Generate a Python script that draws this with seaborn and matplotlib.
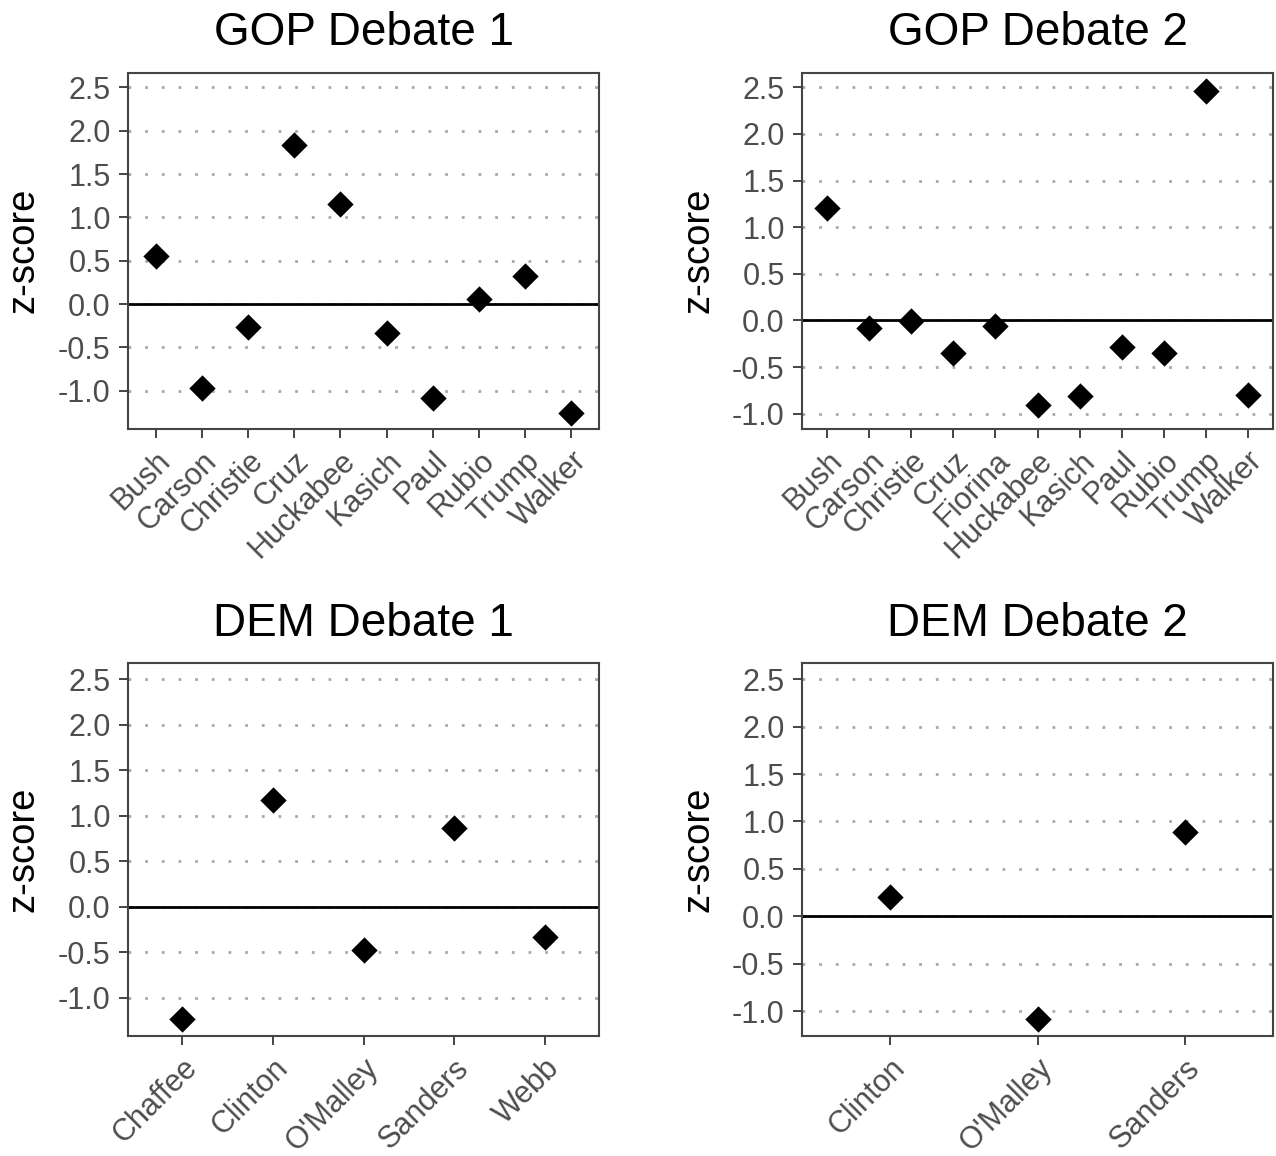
import matplotlib
matplotlib.use("Agg")
import matplotlib.pyplot as plt
import seaborn as sns
import pandas as pd

# ---- data ----
gop1_candidates = ["Bush", "Carson", "Christie", "Cruz", "Huckabee", "Kasich", "Paul", "Rubio", "Trump", "Walker"]
gop1_z = [0.55, -0.97, -0.26, 1.84, 1.15, -0.33, -1.08, 0.06, 0.32, -1.26]

gop2_candidates = ["Bush", "Carson", "Christie", "Cruz", "Fiorina", "Huckabee", "Kasich", "Paul", "Rubio", "Trump", "Walker"]
gop2_z = [1.21, -0.08, -0.01, -0.35, -0.06, -0.91, -0.81, -0.28, -0.35, 2.46, -0.80]

dem1_candidates = ["Chaffee", "Clinton", "O'Malley", "Sanders", "Webb"]
dem1_z = [-1.23, 1.17, -0.48, 0.87, -0.33]

dem2_candidates = ["Clinton", "O'Malley", "Sanders"]
dem2_z = [0.20, -1.08, 0.89]

titles = ["GOP Debate 1", "GOP Debate 2", "DEM Debate 1", "DEM Debate 2"]
y_ticks = [-1.0, -0.5, 0.0, 0.5, 1.0, 1.5, 2.0, 2.5]

# ---- style ----
sns.set_theme(style="white")
plt.rcParams['font.family'] = ['Liberation Sans', 'DejaVu Sans']
plt.rcParams['axes.unicode_minus'] = False

W, H = 1276, 1156
fig = plt.figure(figsize=(W / 100, H / 100), dpi=100)

# pixel boxes: (left, right, top, bottom)
boxes = [
    (128, 599, 72.7, 428.5),
    (802, 1273, 72.7, 428.7),
    (128, 599, 663.3, 1035.7),
    (802, 1273, 663.3, 1035.7),
]
ylims = [(-1.434, 2.668), (-1.161, 2.657), (-1.418, 2.676), (-1.26, 2.669)]

panels = [
    (gop1_candidates, gop1_z),
    (gop2_candidates, gop2_z),
    (dem1_candidates, dem1_z),
    (dem2_candidates, dem2_z),
]

frame_col = "#444444"
for i, ((cands, zs), (l, r, t, b)) in enumerate(zip(panels, boxes)):
    ax = fig.add_axes([l / W, 1 - b / H, (r - l) / W, (b - t) / H])
    df = pd.DataFrame({"candidate": cands, "z": zs})
    ax.set_axisbelow(True)
    ax.yaxis.grid(True, linestyle=(0, (1, 5)), color="#a8a8a8", linewidth=2.0)
    ax.xaxis.grid(False)
    ax.axhline(0, color="black", linewidth=2.0, zorder=2)
    sns.scatterplot(data=df, x="candidate", y="z", ax=ax, marker="D", s=180,
                    color="black", edgecolor="black", linewidth=0, zorder=3)
    ax.set_xlim(-0.6, len(cands) - 1 + 0.6)
    ax.set_ylim(*ylims[i])
    ax.set_yticks(y_ticks)
    ax.set_yticklabels([f"{v:.1f}" for v in y_ticks])
    ax.set_xticks(range(len(cands)))
    ax.set_xticklabels(cands, rotation=45, ha="right", va="top", rotation_mode="anchor")
    ax.tick_params(axis="both", direction="out", length=6.5, width=1.4,
                   color=frame_col, labelcolor="#4D4D4D", labelsize=22, pad=6)
    ax.tick_params(axis="both", which="both", bottom=True, left=True)
    for sp in ax.spines.values():
        sp.set_visible(True)
        sp.set_color(frame_col)
        sp.set_linewidth(1.5)
    ax.set_xlabel("")
    ax.set_ylabel("z-score", fontsize=27.5, color="black")
    ax.yaxis.set_label_coords(-86 / (r - l), 0.5)
    ax.set_title(titles[i], fontsize=33, color="black", pad=20)

fig.savefig("out.png", dpi=100)
